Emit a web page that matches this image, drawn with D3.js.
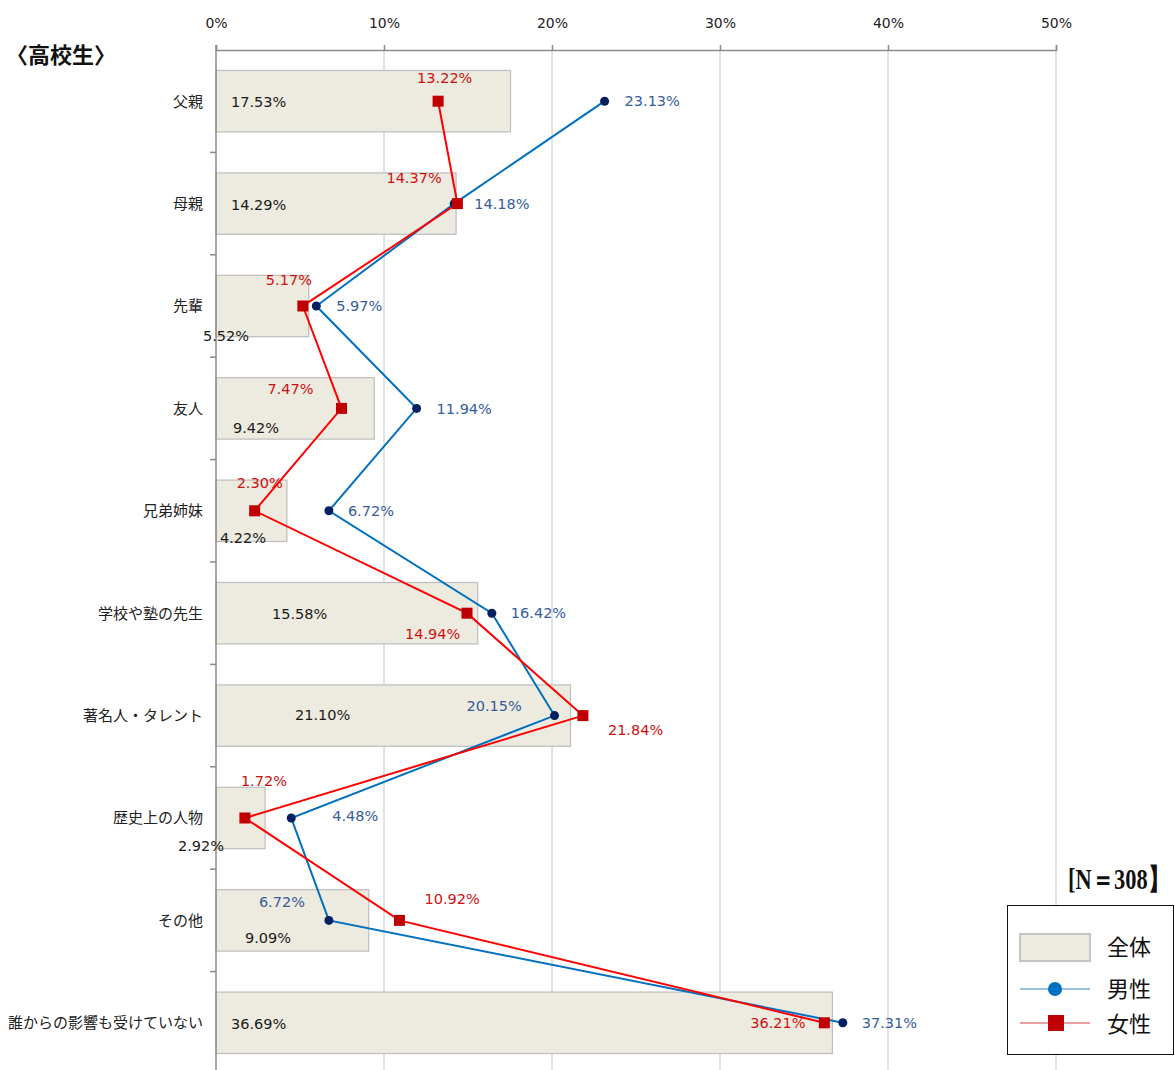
<!DOCTYPE html>
<html>
<head>
<meta charset="utf-8">
<script src="https://cdn.jsdelivr.net/npm/d3@7"></script>
<style>
  body { margin: 0; background: #fff; }
  svg { display: block; }
</style>
</head>
<body>
<div id="chart"></div>
<script>
// data
const categories = ['父親', '母親', '先輩', '友人', '兄弟姉妹', '学校や塾の先生', '著名人・タレント', '歴史上の人物', 'その他', '誰からの影響も受けていない'];
const totalValues  = [17.53, 14.29, 5.52, 9.42, 4.22, 15.58, 21.10, 2.92, 9.09, 36.69];
const maleValues   = [23.13, 14.18, 5.97, 11.94, 6.72, 16.42, 20.15, 4.48, 6.72, 37.31];
const femaleValues = [13.22, 14.37, 5.17, 7.47, 2.30, 14.94, 21.84, 1.72, 10.92, 36.21];
const xTicks = [0, 10, 20, 30, 40, 50];

// label nudges (dx, dy) as placed by hand in the original
const totalNudge  = [[15,1],[15,1],[-13,30],[17,19],[4,27],[56,1],[79,-1],[-38,28],[29,17],[15,1]];
const maleNudge   = [[20,0],[20,0],[20,0],[20,0],[19,0],[19,0],[-88,-10],[41,-2],[-70,-19],[19,0]];
const femaleNudge = [[-21,-23],[-71,-26],[-37,-26],[-74,-20],[-18,-28],[-62,21],[25,14],[-4,-37],[25,-22],[-74,0]];

const W = 1175, H = 1070;
const x0 = 216, y0 = 50;

const svg = d3.select('#chart').append('svg')
  .attr('width', W)
  .attr('height', H);

const xScale = d3.scaleLinear().domain([0, 50]).range([x0, 1056]);
const yScale = d3.scaleBand()
  .domain(categories)
  .range([y0, 1074])
  .paddingInner(0.4)
  .paddingOuter(0.2);
const step = yScale.step();
const bw = yScale.bandwidth();
const cy = c => yScale(c) + bw / 2;

const numFont = '"DejaVu Sans", Verdana, sans-serif';
const jpFont = '"Noto Sans CJK JP", sans-serif';

// gridlines
svg.append('g')
  .selectAll('line')
  .data(xTicks.slice(1))
  .join('line')
  .attr('x1', d => xScale(d)).attr('x2', d => xScale(d))
  .attr('y1', y0).attr('y2', H)
  .attr('stroke', '#c6c6c6')
  .attr('stroke-width', 1);

// top axis
const xAxis = d3.axisTop(xScale)
  .tickValues(xTicks)
  .tickFormat(d => d + '%')
  .tickSize(5)
  .tickPadding(17);

const gx = svg.append('g')
  .attr('transform', `translate(0,${y0})`)
  .call(xAxis);
gx.select('.domain').attr('stroke', '#8a8a8a').attr('stroke-width', 1.5);
gx.selectAll('.tick line').attr('stroke', '#8a8a8a').attr('stroke-width', 1.5);
gx.selectAll('.tick text')
  .attr('fill', '#222')
  .style('font-family', numFont)
  .style('font-size', '14px');

// bars
svg.append('g')
  .selectAll('rect')
  .data(categories)
  .join('rect')
  .attr('x', xScale(0))
  .attr('y', d => yScale(d))
  .attr('width', (d, i) => xScale(totalValues[i]) - xScale(0))
  .attr('height', bw)
  .attr('fill', '#edeae0')
  .attr('stroke', '#bdbdbd')
  .attr('stroke-width', 1.2);

// left axis
svg.append('line')
  .attr('x1', x0).attr('x2', x0)
  .attr('y1', y0 - 5).attr('y2', H)
  .attr('stroke', '#8a8a8a')
  .attr('stroke-width', 1.5);

svg.append('g')
  .selectAll('line')
  .data(d3.range(1, categories.length))
  .join('line')
  .attr('x1', x0 - 6).attr('x2', x0)
  .attr('y1', i => y0 + step * i).attr('y2', i => y0 + step * i)
  .attr('stroke', '#8a8a8a')
  .attr('stroke-width', 1.5);

// category labels
svg.append('g')
  .selectAll('text')
  .data(categories)
  .join('text')
  .attr('x', 203)
  .attr('y', d => cy(d))
  .attr('dy', '0.36em')
  .attr('text-anchor', 'end')
  .attr('fill', '#222')
  .style('font-family', jpFont)
  .style('font-size', '15px')
  .text(d => d);

// lines
const lineGen = vals => d3.line()
  .x((d, i) => xScale(vals[i]))
  .y(d => cy(d));

svg.append('path')
  .datum(categories)
  .attr('d', lineGen(maleValues))
  .attr('fill', 'none')
  .attr('stroke', '#0070c0')
  .attr('stroke-width', 2);

svg.append('path')
  .datum(categories)
  .attr('d', lineGen(femaleValues))
  .attr('fill', 'none')
  .attr('stroke', '#ff0000')
  .attr('stroke-width', 2);

// markers
svg.append('g')
  .selectAll('circle')
  .data(categories)
  .join('circle')
  .attr('cx', (d, i) => xScale(maleValues[i]))
  .attr('cy', d => cy(d))
  .attr('r', 4.5)
  .attr('fill', '#002060');

svg.append('g')
  .selectAll('rect')
  .data(categories)
  .join('rect')
  .attr('x', (d, i) => xScale(femaleValues[i]) - 5.5)
  .attr('y', d => cy(d) - 5.5)
  .attr('width', 11)
  .attr('height', 11)
  .attr('fill', '#c00000');

// data labels
const addLabels = (vals, nudge, anchorX, color) => {
  svg.append('g')
    .selectAll('text')
    .data(categories)
    .join('text')
    .attr('x', (d, i) => anchorX(vals[i]) + nudge[i][0])
    .attr('y', (d, i) => cy(d) + nudge[i][1])
    .attr('dy', '0.36em')
    .attr('fill', color)
    .style('font-family', numFont)
    .style('font-size', '14.5px')
    .text((d, i) => vals[i].toFixed(2) + '%');
};
addLabels(totalValues, totalNudge, v => xScale(0), '#1a1a1a');
addLabels(maleValues, maleNudge, v => xScale(v), '#355c9c');
addLabels(femaleValues, femaleNudge, v => xScale(v), '#d01010');

// title
svg.append('text')
  .attr('x', 6)
  .attr('y', 63)
  .attr('fill', '#111')
  .style('font-family', jpFont)
  .style('font-size', '22px')
  .style('font-weight', 'bold')
  .text('〈高校生〉');

// N, squeezed horizontally like the condensed original face
const nLabel = svg.append('g')
  .append('text')
  .attr('x', 0)
  .attr('y', 0)
  .attr('fill', '#111')
  .style('font-family', '"Liberation Serif", serif')
  .style('font-size', '29px')
  .style('font-weight', 'bold')
  .text('[N＝308】');
const nLen = nLabel.node().getComputedTextLength();
const sx = Math.min(1, 102 / nLen);
nLabel.attr('transform', `translate(1068,889) scale(${sx},1)`);

// legend
const lg = svg.append('g');
lg.append('rect')
  .attr('x', 1007.5).attr('y', 905.5)
  .attr('width', 166).attr('height', 149)
  .attr('fill', '#fff')
  .attr('stroke', '#111')
  .attr('stroke-width', 1);

lg.append('rect')
  .attr('x', 1020).attr('y', 934)
  .attr('width', 70).attr('height', 27)
  .attr('fill', '#edeae0')
  .attr('stroke', '#c4c4c4')
  .attr('stroke-width', 2);

lg.append('line')
  .attr('x1', 1020).attr('x2', 1090)
  .attr('y1', 989).attr('y2', 989)
  .attr('stroke', '#2d86c8').attr('stroke-width', 1.2);
lg.append('circle')
  .attr('cx', 1055).attr('cy', 989).attr('r', 7)
  .attr('fill', '#0070c0');

lg.append('line')
  .attr('x1', 1020).attr('x2', 1090)
  .attr('y1', 1023).attr('y2', 1023)
  .attr('stroke', '#d94040').attr('stroke-width', 1.2);
lg.append('rect')
  .attr('x', 1048).attr('y', 1015)
  .attr('width', 16).attr('height', 16)
  .attr('fill', '#c00000');

lg.selectAll('text.lgtext')
  .data(['全体', '男性', '女性'])
  .join('text')
  .attr('class', 'lgtext')
  .attr('x', 1107)
  .attr('y', (d, i) => [947, 989, 1024][i])
  .attr('dy', '0.36em')
  .attr('fill', '#111')
  .style('font-family', jpFont)
  .style('font-size', '22px')
  .text(d => d);
</script>
</body>
</html>
